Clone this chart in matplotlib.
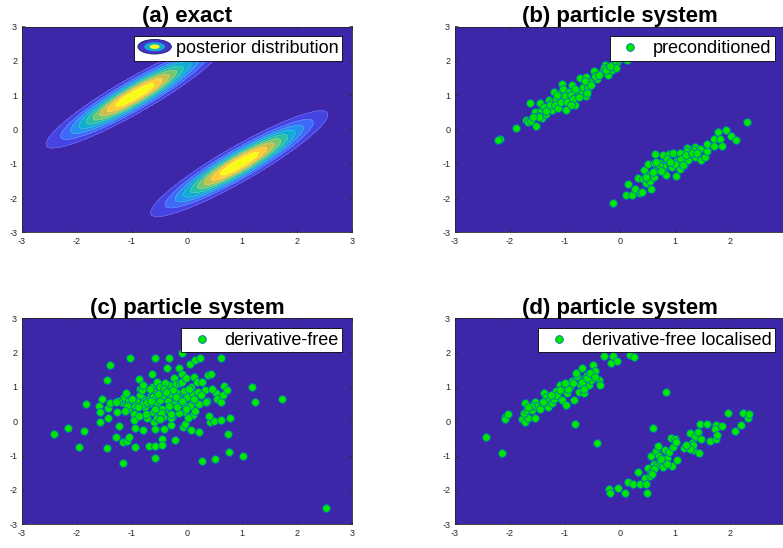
import numpy as np
import matplotlib
matplotlib.use('Agg')
import matplotlib.pyplot as plt
from matplotlib.colors import LinearSegmentedColormap
from matplotlib.patches import Ellipse
from matplotlib.lines import Line2D
from matplotlib.legend_handler import HandlerBase

plt.rcParams['font.family'] = ['Liberation Sans', 'DejaVu Sans']
plt.rcParams['axes.unicode_minus'] = False

# exact posterior (panel a): two elongated gaussian modes
mode_centres = [(-0.95, 1.0), (0.95, -1.0)]
mode_angle_deg = 43.7
mode_sd_long = 1.02
mode_sd_short = 0.2
n_levels = 10

titles = ['(a) exact', '(b) particle system', '(c) particle system', '(d) particle system']
legend_labels = ['posterior distribution', 'preconditioned', 'derivative-free',
                 'derivative-free localised']
ticks = [-3, -2, -1, 0, 1, 2, 3]

# (b) preconditioned particles
b_x = [-2.18, -2.22, -1.90, -1.64, -1.71, -1.67, -1.62, -1.53, -1.55, -1.45, -1.44, -1.41,
       -1.50, -1.38, -1.30, -1.24, -1.23, -1.16, -1.20, -1.10, -1.05, -1.03, -1.06, -0.99,
       -0.94, -0.93, -0.88, -0.81, -0.78, -0.73, -0.70, -0.61, -0.62, -0.55, -0.47, -0.41,
       -0.32, -0.28, -0.21, -0.15, -0.11, -0.06, -0.07, 0.13, -0.02,
       -1.35, -1.28, -1.18, -1.12, -1.08, -1.00, -0.96, -0.90, -0.85, -0.82, -0.75, -0.68,
       -0.64, -0.58, -0.52, -0.45, -0.38, -0.30, -0.25, -0.18, -1.47, -1.58, -1.35, -1.15,
       -0.60, -0.90,
       2.31, -0.12, 0.14, 0.11, 0.21, 0.27, 0.36, 0.40, 0.33, 0.41, 0.47, 0.56, 0.44, 0.51,
       0.53, 0.55, 0.62, 0.62, 0.64, 0.64, 0.73, 0.78, 0.79, 0.84, 0.89, 0.92, 0.95, 0.97,
       1.03, 1.04, 1.02, 1.09, 1.09, 1.13, 1.17, 1.21, 1.22, 1.24, 1.36, 1.35, 1.36, 1.45,
       1.47, 1.55, 1.58, 1.59, 1.70, 1.71, 1.79, 1.81, 1.86, 1.92, 2.01, 2.11, 0.78,
       0.70, 0.85, 0.95, 1.10, 1.20, 1.30, 0.60, 0.75, 1.00, 0.90, 1.15, 1.40, 0.48, 0.66]
b_y = [-0.27, -0.30, 0.05, 0.76, 0.27, 0.22, 0.24, 0.11, 0.52, 0.78, 0.55, 0.32,
       0.39, 0.66, 0.86, 0.81, 0.58, 0.90, 1.08, 1.05, 1.31, 1.18, 0.90, 0.58,
       0.93, 1.10, 1.29, 0.71, 1.12, 1.49, 1.11, 0.97, 1.54, 1.39, 1.71, 1.47,
       1.68, 1.89, 1.60, 1.73, 1.93, 1.97, 1.79, 2.02, 2.05,
       0.45, 0.70, 0.72, 0.62, 0.80, 0.98, 0.80, 1.00, 0.88, 1.18, 0.95, 1.25,
       1.40, 1.20, 1.30, 1.55, 1.60, 1.78, 1.72, 1.85, 0.35, 0.35, 0.55, 1.00,
       1.05, 0.70,
       0.23, -2.15, -1.58, -1.92, -1.90, -1.75, -1.84, -1.83, -1.43, -1.46, -1.57, -1.73, -1.17, -1.01,
       -1.33, -1.50, -0.99, -1.40, -1.22, -0.73, -0.99, -0.75, -1.19, -1.32, -0.72, -1.09, -0.97, -0.70,
       -0.89, -0.92, -1.37, -0.70, -1.16, -0.99, -1.05, -0.53, -0.62, -0.89, -0.52, -0.60, -0.80, -0.58,
       -0.89, -0.80, -0.62, -0.44, -0.29, -0.48, -0.08, -0.27, -0.49, -0.03, -0.19, -0.31, -1.06,
       -1.05, -0.85, -1.10, -0.85, -0.75, -0.70, -1.25, -1.20, -1.00, -0.95, -1.05, -0.70, -1.40, -0.95]

# (c) derivative-free particles
c_x = [-2.42, -2.17, -1.96, -1.88, -1.84, -1.60, -1.59, -1.58, -1.54, -1.46, -1.46, -1.44,
       -1.43, -1.40, -1.40, -1.28, -1.29, -1.23, -1.20, -1.17, -1.17, -1.14, -1.11, -1.09,
       -1.06, -1.08, -1.03, -1.00, -0.97, -0.96, -0.95, -0.94, -0.91, -0.88, -0.85, -0.80,
       -0.79, -0.76, -0.73, -0.69, -0.67, -0.65, -0.64, -0.63, -0.61, -0.60, -0.59, -0.59,
       -0.58, -0.58, -0.55, -0.54, -0.50, -0.49, -0.46, -0.46, -0.44, -0.43, -0.41, -0.38,
       -0.36, -0.33, -0.32, -0.30, -0.29, -0.27, -0.24, -0.24, -0.22, -0.20, -0.16, -0.15,
       -0.09, -0.09, -0.07, -0.07, -0.05, -0.03, -0.03, 0.00, 0.05, 0.08, 0.08, 0.09,
       0.10, 0.11, 0.13, 0.15, 0.18, 0.21, 0.22, 0.24, 0.27, 0.32, 0.36, 0.38,
       0.41, 0.44, 0.49, 0.50, 0.52, 0.54, 0.61, 0.61, 0.61, 0.65, 0.68, 0.73,
       0.74, 0.77, 0.79, 1.02, 1.19, 1.23, 1.73, 2.53,
       -0.80, -0.60, -0.45, -0.35, -0.20, -0.10, 0.05, -0.55, -0.30, -0.15, -0.70, -0.95,
       -1.05, -0.85,
       -1.25, -1.10, -1.00, -0.90, -0.82, -0.75, -0.68, -0.62, -0.52, -0.48, -0.40, -0.33,
       -0.26, -0.18, -0.12, -0.02, 0.03, 0.12, 0.20, 0.28, 0.35, -0.72, -0.58, -0.42,
       -0.30, -0.10, 0.15, -0.88, -0.50, -0.20, 0.02, 0.25, -1.12, -0.65, -0.38, 0.45,
       -1.30, -0.02, 0.40, -0.80]
c_y = [-0.37, -0.21, -0.76, -0.29, 0.49, 0.45, 0.27, -0.02, 0.65, -0.78, 1.21, 0.08,
       0.39, 1.65, 0.54, 0.27, -0.46, -0.14, 0.56, -1.22, -0.60, 0.71, 0.81, -0.58,
       -0.46, 0.35, 1.83, 0.52, 0.22, 0.03, -0.75, -0.21, 0.56, 1.22, 0.95, -0.26,
       0.66, 0.42, 0.08, -0.72, 0.52, 0.76, 1.39, 1.00, 0.27, -0.02, -0.23, -1.07,
       -0.71, 1.83, 0.52, 1.15, 0.61, 1.00, -0.51, -0.68, 0.13, 0.76, -0.24, 0.37,
       1.54, 1.05, 1.83, 0.76, -0.12, 0.13, 1.26, 0.52, -0.55, 1.07, 0.76, 1.56,
       1.39, 1.99, -0.17, 0.52, 0.88, 0.27, -0.07, 0.71, 1.67, 1.00, -0.26, 0.52,
       0.78, 0.18, 1.29, 1.78, 1.15, -0.31, 0.50, 1.85, -1.17, 0.90, 0.58, 1.36,
       -0.02, 1.39, 0.00, -1.09, 0.81, 0.64, 1.85, 0.56, 0.03, 0.76, 1.03, 0.92,
       -0.36, -0.89, 0.10, -1.01, 1.00, 0.56, 0.66, -2.53,
       0.50, 0.85, 0.35, 0.60, 0.85, 0.60, 0.45, 0.10, 0.10, 0.25, 0.65, 0.45,
       0.60, 0.75,
       0.60, 0.45, 0.65, 0.40, 0.90, 0.20, 0.95, 0.70, 0.80, 0.25, 1.10, 0.45,
       0.90, 0.40, 1.10, 0.35, 0.95, 0.65, 0.85, 1.15, 0.55, 0.55, 0.35, 0.95,
       0.20, 1.15, 0.30, 0.15, 0.05, 0.70, 0.10, 0.75, 0.30, 0.60, 0.85, 0.95,
       0.55, 1.25, 0.15, 1.05]

# (d) derivative-free localised particles
d_x = [-2.43, -2.15, -2.09, -2.10, -2.04, -1.78, -1.72, -1.67, -1.74, -1.72, -1.70, -1.60,
       -1.54, -1.54, -1.52, -1.45, -1.38, -1.35, -1.31, -1.29, -1.23, -1.20, -1.17, -1.14,
       -1.10, -1.05, -1.02, -0.99, -0.96, -0.91, -0.87, -0.84, -0.81, -0.78, -0.75, -0.72,
       -0.69, -0.66, -0.64, -0.60, -0.56, -0.53, -0.50, -0.46, -0.41, -0.38, -0.36, -0.29,
       -0.17, -0.13, -0.05, 0.19, 0.26, 0.84, 0.60,
       -1.25, -1.10, -0.95, -0.85, -0.70, -0.60, -0.55, -1.40, -1.62, -1.68, -1.00, -0.80,
       -0.65, -0.45,
       -0.20, -0.19, -0.04, 0.09, 0.14, 0.24, 0.33, 0.36, 0.45, 0.49, 0.48, 0.50,
       0.56, 0.57, 0.62, 0.66, 0.68, 0.69, 0.72, 0.78, 0.81, 0.86, 0.89, 0.92,
       0.94, 0.97, 1.00, 1.01, 1.04, 1.17, 1.26, 1.27, 1.33, 1.36, 1.41, 1.43,
       1.45, 1.47, 1.59, 1.64, 1.75, 1.73, 1.75, 1.77, 1.86, 1.97, 2.09, 2.20,
       2.23, 2.32, 2.35,
       0.70, 0.75, 0.62, 0.85, 1.30, 1.33, 1.28, 1.20, 0.55, 0.58]
d_y = [-0.46, -0.94, 0.13, 0.05, 0.20, 0.06, -0.02, 0.08, 0.24, 0.52, 0.32, 0.32,
       0.10, 0.56, 0.45, 0.35, 0.81, 0.71, 0.42, 0.61, 0.52, 0.64, 0.88, 0.76,
       1.05, 0.63, 0.95, 0.47, 0.81, 1.00, 1.17, 0.63, -0.07, 1.32, 0.86, 1.07,
       1.54, 0.81, 1.25, 1.36, 1.05, 1.20, 1.63, 1.46, -0.65, 1.20, 1.05, 1.91,
       1.70, 1.90, 1.75, 1.93, 1.86, 0.86, -0.19,
       0.75, 0.90, 0.95, 1.10, 1.15, 1.25, 1.40, 0.55, 0.45, 0.40, 1.10, 1.40,
       0.95, 1.30,
       -1.98, -2.09, -1.96, -2.08, -1.77, -1.84, -1.48, -1.82, -1.67, -2.08, -1.84, -1.36,
       -1.48, -1.01, -1.24, -0.87, -1.28, -0.72, -1.16, -1.33, -0.85, -1.07, -0.91, -0.48,
       -1.31, -0.75, -0.53, -0.60, -1.12, -0.78, -0.75, -0.33, -0.85, -0.46, -0.31, -0.94,
       -0.07, -0.53, -0.07, -0.58, -0.12, -0.24, -0.53, -0.41, -0.15, 0.24, -0.29, -0.10,
       0.24, 0.10, 0.22,
       -1.00, -1.10, -1.40, -1.25, -0.65, -0.70, -0.80, -0.70, -1.60, -1.55]

# parula-like colormap
parula = LinearSegmentedColormap.from_list('parula', [
    (0.2422, 0.1504, 0.6603), (0.2803, 0.2782, 0.9221), (0.2305, 0.4589, 0.9932),
    (0.1157, 0.6184, 0.9036), (0.0277, 0.7179, 0.7654), (0.3208, 0.7968, 0.5125),
    (0.7107, 0.7498, 0.3303), (0.9985, 0.7686, 0.2305), (0.9769, 0.9839, 0.0805)])
bg = parula(0.0)
green = (0.0, 0.9, 0.0)
edge = '#0072BD'


class EllipseIcon(HandlerBase):
    def create_artists(self, legend, orig, xd, yd, w, h, fs, trans):
        cx, cy = -xd + w / 2, -yd + h / 2
        parts = []
        for k, (sc, col) in enumerate([(1.0, parula(0.06)), (0.62, parula(0.45)), (0.3, parula(1.0))]):
            e = Ellipse((cx, cy), w * sc, h * 1.15 * sc, facecolor=col,
                        edgecolor='#1a1a6e' if k == 0 else 'none', lw=0.6, transform=trans)
            parts.append(e)
        return parts


W, H = 783, 548
fig = plt.figure(figsize=(W / 100, H / 100), dpi=100)
boxes = [(22, 26.5), (455, 26.5), (22, 318.3), (455, 318.3)]
aw, ah = 330, 205.8
axes = []
for (l, t) in boxes:
    ax = fig.add_axes([l / W, 1 - (t + ah) / H, aw / W, ah / H])
    axes.append(ax)

# exact posterior density
g = np.linspace(-3, 3, 500)
X, Y = np.meshgrid(g, g)
th = np.deg2rad(mode_angle_deg)
Z = np.zeros_like(X)
for cx, cy in mode_centres:
    u = (X - cx) * np.cos(th) + (Y - cy) * np.sin(th)
    v = -(X - cx) * np.sin(th) + (Y - cy) * np.cos(th)
    Z += np.exp(-0.5 * (u / mode_sd_long) ** 2 - 0.5 * (v / mode_sd_short) ** 2)
Z /= Z.max()
levels = np.linspace(0, 1, n_levels + 1)
levels[0] = -0.01
levels[-1] = 1.01
band_cols = [parula(i / (n_levels - 1)) for i in range(n_levels)]
ax = axes[0]
ax.contourf(X, Y, Z, levels=levels, colors=band_cols)
ax.contour(X, Y, Z, levels=levels[1:-1], colors='white', linewidths=0.3, alpha=0.35)

particles = [(b_x, b_y), (c_x, c_y), (d_x, d_y)]
for ax, (px, py) in zip(axes[1:], particles):
    ax.set_facecolor(bg)
    ax.plot(px, py, 'o', ls='none', ms=5.6, mfc=green, mec=edge, mew=0.6)

for i, ax in enumerate(axes):
    ax.set_xlim(-3, 3)
    ax.set_ylim(-3, 3)
    ax.set_xticks(ticks)
    ax.set_yticks(ticks)
    ax.tick_params(direction='in', length=2.5, width=0.5, labelsize=6.5, colors='#262626',
                   top=True, right=True, pad=3.5)
    for s in ax.spines.values():
        s.set_linewidth(0.6)
        s.set_color('#262626')
    ax.set_title(titles[i], fontsize=16, fontweight='bold', pad=3)

    if i == 0:
        h = Line2D([], [])
        leg = ax.legend([h], [legend_labels[0]], handler_map={Line2D: EllipseIcon()},
                        loc='upper right', fontsize=13, handlelength=1.85, handleheight=0.7,
                        handletextpad=0.25, borderpad=0.2, borderaxespad=0.55,
                        fancybox=False, framealpha=1, edgecolor='black')
    else:
        h = Line2D([], [], ls='none', marker='o', ms=5.6, mfc=green, mec=edge, mew=0.6)
        leg = ax.legend([h], [legend_labels[i]], loc='upper right', fontsize=13,
                        handlelength=1.9, handletextpad=0.3, borderpad=0.2,
                        borderaxespad=0.55, fancybox=False, framealpha=1, edgecolor='black')
    leg.get_frame().set_linewidth(0.6)

fig.savefig('out.png', dpi=100)
